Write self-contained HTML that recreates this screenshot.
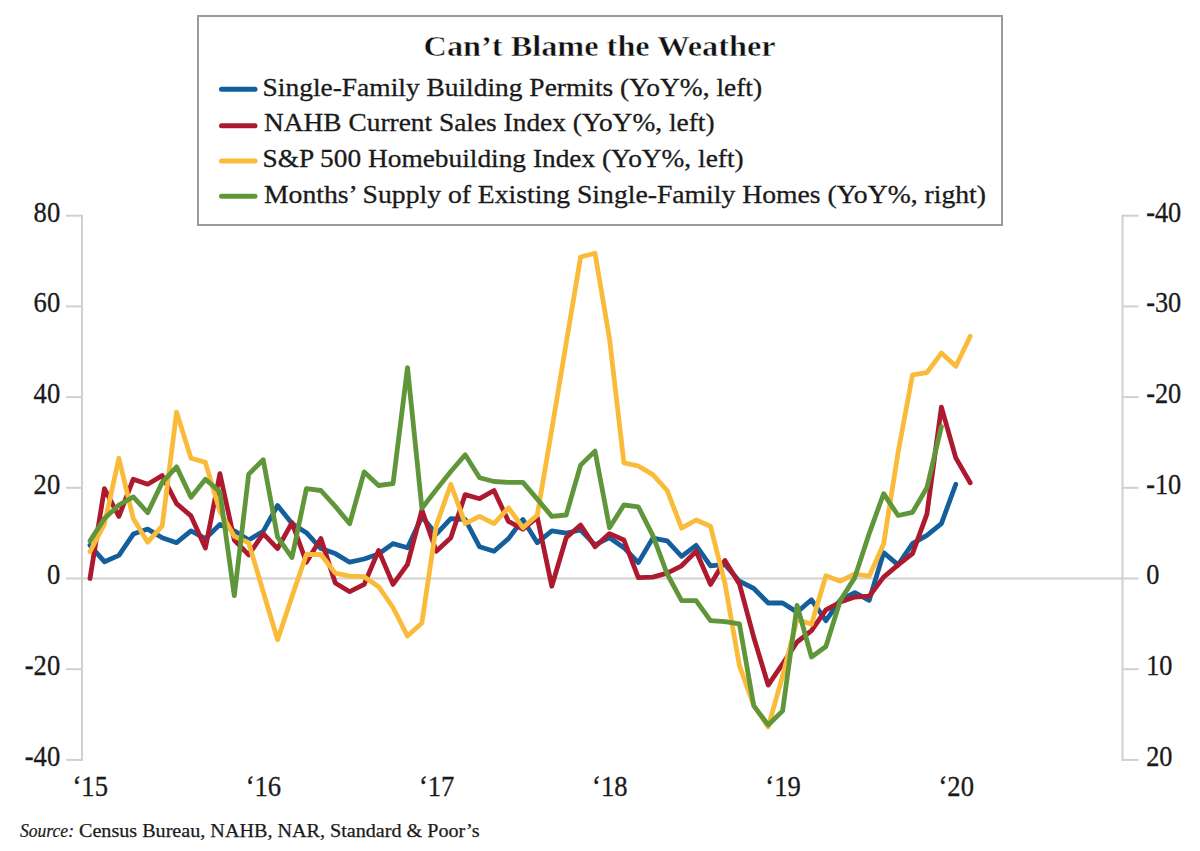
<!DOCTYPE html>
<html><head><meta charset="utf-8"><style>html,body{margin:0;padding:0;background:#fff;width:1200px;height:851px;overflow:hidden}svg{display:block}text{font-family:"Liberation Serif",serif}</style></head><body>
<svg width="1200" height="851" viewBox="0 0 1200 851">
<rect width="1200" height="851" fill="#fff"/>
<g stroke="#d0d0d0" stroke-width="2" fill="none">
<line x1="82" y1="214.7" x2="82" y2="760.9"/>
<line x1="1122.5" y1="214.7" x2="1122.5" y2="760.9"/>
<line x1="66" y1="215.7" x2="82" y2="215.7"/>
<line x1="1122.5" y1="215.7" x2="1138.5" y2="215.7"/>
<line x1="66" y1="306.4" x2="82" y2="306.4"/>
<line x1="1122.5" y1="306.4" x2="1138.5" y2="306.4"/>
<line x1="66" y1="397.1" x2="82" y2="397.1"/>
<line x1="1122.5" y1="397.1" x2="1138.5" y2="397.1"/>
<line x1="66" y1="487.8" x2="82" y2="487.8"/>
<line x1="1122.5" y1="487.8" x2="1138.5" y2="487.8"/>
<line x1="66" y1="578.5" x2="82" y2="578.5"/>
<line x1="1122.5" y1="578.5" x2="1138.5" y2="578.5"/>
<line x1="66" y1="669.2" x2="82" y2="669.2"/>
<line x1="1122.5" y1="669.2" x2="1138.5" y2="669.2"/>
<line x1="66" y1="759.9" x2="82" y2="759.9"/>
<line x1="1122.5" y1="759.9" x2="1138.5" y2="759.9"/>
<line x1="82" y1="578.5" x2="1122.5" y2="578.5"/>
</g>
<g font-size="28" fill="#1a1a1a" stroke="#1a1a1a" stroke-width="0.3">
<text transform="translate(60.2 221.6) scale(0.95 1.07)" text-anchor="end">80</text>
<text transform="translate(60.2 312.3) scale(0.95 1.07)" text-anchor="end">60</text>
<text transform="translate(60.2 403.0) scale(0.95 1.07)" text-anchor="end">40</text>
<text transform="translate(60.2 493.7) scale(0.95 1.07)" text-anchor="end">20</text>
<text transform="translate(60.2 584.4) scale(0.95 1.07)" text-anchor="end">0</text>
<text transform="translate(60.2 675.1) scale(0.95 1.07)" text-anchor="end">-20</text>
<text transform="translate(60.2 765.8) scale(0.95 1.07)" text-anchor="end">-40</text>
<text transform="translate(1146.2 221.6) scale(0.94 1.07)">-40</text>
<text transform="translate(1146.2 312.3) scale(0.94 1.07)">-30</text>
<text transform="translate(1146.2 403.0) scale(0.94 1.07)">-20</text>
<text transform="translate(1146.2 493.7) scale(0.94 1.07)">-10</text>
<text transform="translate(1146.2 584.4) scale(0.94 1.07)">0</text>
<text transform="translate(1146.2 675.1) scale(0.94 1.07)">10</text>
<text transform="translate(1146.2 765.8) scale(0.94 1.07)">20</text>
<text transform="translate(90.2 796.3) scale(0.95 1.04)" text-anchor="middle">‘15</text>
<text transform="translate(263.4 796.3) scale(0.95 1.04)" text-anchor="middle">‘16</text>
<text transform="translate(436.6 796.3) scale(0.95 1.04)" text-anchor="middle">‘17</text>
<text transform="translate(609.8 796.3) scale(0.95 1.04)" text-anchor="middle">‘18</text>
<text transform="translate(783.0 796.3) scale(0.95 1.04)" text-anchor="middle">‘19</text>
<text transform="translate(956.2 796.3) scale(0.95 1.04)" text-anchor="middle">‘20</text>
</g>
<polyline points="90.0,545.4 104.4,561.7 118.9,555.4 133.3,534.1 147.7,529.1 162.2,537.7 176.6,542.7 191.0,530.9 205.4,538.6 219.9,524.5 234.3,530.9 248.7,540.0 263.2,531.3 277.6,505.5 292.0,523.6 306.4,532.7 320.9,548.6 335.3,553.6 349.7,562.2 364.2,559.0 378.6,554.0 393.0,543.6 407.5,547.7 421.9,516.8 436.3,534.1 450.8,518.6 465.2,519.5 479.6,546.8 494.0,551.3 508.5,538.6 522.9,519.5 537.3,542.7 551.8,530.9 566.2,533.1 580.6,530.0 595.0,544.9 609.5,537.7 623.9,547.7 638.3,562.6 652.8,538.1 667.2,540.9 681.6,556.3 696.1,545.4 710.5,565.8 724.9,564.4 739.4,581.2 753.8,588.5 768.2,603.0 782.6,603.0 797.1,612.1 811.5,599.8 825.9,620.7 840.4,599.8 854.8,592.6 869.2,600.3 883.6,552.7 898.1,564.9 912.5,543.6 926.9,535.4 941.4,523.6 955.8,484.2" fill="none" stroke="#145f9b" stroke-width="4.8" stroke-linejoin="round" stroke-linecap="round"/>
<polyline points="90.0,578.5 104.4,488.7 118.9,516.4 133.3,479.2 147.7,484.2 162.2,475.6 176.6,503.7 191.0,515.9 205.4,548.1 219.9,473.7 234.3,540.0 248.7,554.9 263.2,533.6 277.6,548.6 292.0,522.7 306.4,562.2 320.9,538.6 335.3,583.0 349.7,591.7 364.2,584.4 378.6,550.4 393.0,584.4 407.5,564.4 421.9,510.0 436.3,551.3 450.8,537.7 465.2,494.6 479.6,498.7 494.0,490.5 508.5,521.4 522.9,529.1 537.3,517.3 551.8,586.2 566.2,537.7 580.6,525.0 595.0,546.8 609.5,533.6 623.9,540.0 638.3,577.6 652.8,577.1 667.2,573.1 681.6,565.8 696.1,551.3 710.5,584.4 724.9,560.4 739.4,583.9 753.8,637.5 768.2,685.1 782.6,663.8 797.1,642.0 811.5,630.7 825.9,609.8 840.4,602.1 854.8,597.1 869.2,596.2 883.6,577.1 898.1,564.9 912.5,553.6 926.9,514.1 941.4,407.1 955.8,457.9 970.2,482.8" fill="none" stroke="#ad1a2f" stroke-width="4.8" stroke-linejoin="round" stroke-linecap="round"/>
<polyline points="90.0,551.7 104.4,524.1 118.9,458.3 133.3,518.6 147.7,542.2 162.2,525.9 176.6,412.1 191.0,458.3 205.4,462.4 219.9,511.4 234.3,536.3 248.7,542.7 263.2,591.7 277.6,639.7 292.0,596.6 306.4,554.5 320.9,554.5 335.3,573.1 349.7,576.2 364.2,576.7 378.6,586.7 393.0,607.5 407.5,636.1 421.9,622.9 436.3,525.4 450.8,484.2 465.2,523.6 479.6,516.4 494.0,523.6 508.5,507.8 522.9,527.7 537.3,515.0 551.8,429.3 566.2,343.1 580.6,257.0 595.0,253.3 609.5,338.6 623.9,462.9 638.3,466.0 652.8,474.6 667.2,490.5 681.6,528.2 696.1,520.0 710.5,526.3 724.9,583.0 739.4,665.6 753.8,705.5 768.2,726.8 782.6,676.0 797.1,619.3 811.5,624.3 825.9,575.8 840.4,581.2 854.8,574.0 869.2,576.2 883.6,544.0 898.1,452.4 912.5,374.9 926.9,372.6 941.4,353.1 955.8,366.3 970.2,336.3" fill="none" stroke="#fbbb3a" stroke-width="4.8" stroke-linejoin="round" stroke-linecap="round"/>
<polyline points="90.0,540.9 104.4,518.6 118.9,505.0 133.3,496.9 147.7,512.7 162.2,482.4 176.6,466.9 191.0,497.3 205.4,479.2 219.9,491.9 234.3,595.7 248.7,474.2 263.2,459.7 277.6,537.2 292.0,557.6 306.4,488.7 320.9,490.5 335.3,506.4 349.7,523.6 364.2,471.9 378.6,485.5 393.0,483.7 407.5,367.6 421.9,508.2 436.3,489.6 450.8,471.5 465.2,454.7 479.6,477.8 494.0,481.5 508.5,482.4 522.9,482.4 537.3,499.1 551.8,516.4 566.2,515.0 580.6,465.1 595.0,451.1 609.5,527.7 623.9,505.0 638.3,506.8 652.8,535.4 667.2,574.0 681.6,600.7 696.1,600.7 710.5,620.7 724.9,621.6 739.4,623.9 753.8,705.9 768.2,725.0 782.6,710.9 797.1,605.3 811.5,657.0 825.9,646.5 840.4,600.3 854.8,577.6 869.2,533.6 883.6,493.7 898.1,515.5 912.5,512.3 926.9,487.8 941.4,426.6" fill="none" stroke="#60963a" stroke-width="4.8" stroke-linejoin="round" stroke-linecap="round"/>
<rect x="198" y="16" width="804" height="209" fill="#fff" stroke="#9b9b9b" stroke-width="2"/>
<text x="423.6" y="55.8" font-weight="bold" font-size="30" fill="#111" stroke="#fff" stroke-width="0.5" paint-order="fill" textLength="352" lengthAdjust="spacingAndGlyphs">Can’t Blame the Weather</text>
<line x1="221.5" y1="89.2" x2="255" y2="89.2" stroke="#145f9b" stroke-width="5" stroke-linecap="round"/>
<text x="262.6" y="95.6" font-size="25.2" fill="#1a1a1a" stroke="#1a1a1a" stroke-width="0.3" textLength="499.5" lengthAdjust="spacingAndGlyphs">Single-Family Building Permits (YoY%, left)</text>
<line x1="221.5" y1="125.8" x2="255" y2="125.8" stroke="#ad1a2f" stroke-width="5" stroke-linecap="round"/>
<text x="264" y="131.2" font-size="25.2" fill="#1a1a1a" stroke="#1a1a1a" stroke-width="0.3" textLength="450.5" lengthAdjust="spacingAndGlyphs">NAHB Current Sales Index (YoY%, left)</text>
<line x1="221.5" y1="161.0" x2="255" y2="161.0" stroke="#fbbb3a" stroke-width="5" stroke-linecap="round"/>
<text x="262.6" y="166.9" font-size="25.2" fill="#1a1a1a" stroke="#1a1a1a" stroke-width="0.3" textLength="481" lengthAdjust="spacingAndGlyphs">S&amp;P 500 Homebuilding Index (YoY%, left)</text>
<line x1="221.5" y1="196.2" x2="255" y2="196.2" stroke="#60963a" stroke-width="5" stroke-linecap="round"/>
<text x="264" y="202.6" font-size="25.2" fill="#1a1a1a" stroke="#1a1a1a" stroke-width="0.3" textLength="722" lengthAdjust="spacingAndGlyphs">Months’ Supply of Existing Single-Family Homes (YoY%, right)</text>
<text x="20" y="836.5" font-size="19" font-style="italic" fill="#1a1a1a" stroke="#1a1a1a" stroke-width="0.2" textLength="54" lengthAdjust="spacingAndGlyphs">Source:</text>
<text x="79" y="836.5" font-size="19.5" fill="#1a1a1a" stroke="#1a1a1a" stroke-width="0.25" textLength="400.5" lengthAdjust="spacingAndGlyphs">Census Bureau, NAHB, NAR, Standard &amp; Poor’s</text>
</svg>
</body></html>
